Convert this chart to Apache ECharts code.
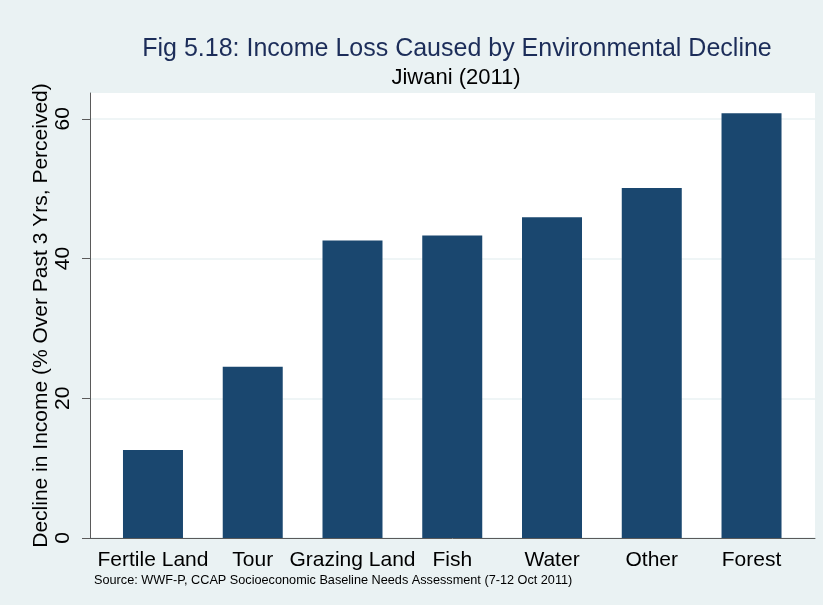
<!DOCTYPE html>
<html>
<head>
<meta charset="utf-8">
<script src="https://cdn.jsdelivr.net/npm/echarts@6/dist/echarts.min.js"></script>
<style>
  html, body { margin: 0; padding: 0; background: #eaf2f3; }
  #chart { width: 823px; height: 605px; }
</style>
</head>
<body>
<div id="chart"></div>
<script>
// Perceived income decline by resource type, Jiwani (2011)
const categories = ['Fertile Land', 'Tour', 'Grazing Land', 'Fish', 'Water', 'Other', 'Forest'];
const declineValues = [12.6, 24.5, 42.6, 43.3, 45.9, 50.1, 60.8];
const yTicks = [0, 20, 40, 60];

const titleText = 'Fig 5.18: Income Loss Caused by Environmental Decline';
const subtitleText = 'Jiwani (2011)';
const yAxisTitle = 'Decline in Income (% Over Past 3 Yrs, Perceived)';
const sourceNote = 'Source: WWF-P, CCAP Socioeconomic Baseline Needs Assessment (7-12 Oct 2011)';

const FONT = '"Liberation Sans", Arial, Helvetica, sans-serif';
const Y_MAX = 63.7;

const chart = echarts.init(document.getElementById('chart'), null, { renderer: 'canvas' });

chart.setOption({
  backgroundColor: '#eaf2f3',
  animation: false,
  title: [
    {
      text: titleText,
      left: 452, top: 32, textAlign: 'center',
      textStyle: { fontFamily: FONT, fontSize: 25, fontWeight: 'normal', color: '#1c2d59' }
    },
    {
      text: subtitleText,
      left: 451, top: 62, textAlign: 'center',
      textStyle: { fontFamily: FONT, fontSize: 22, fontWeight: 'normal', color: '#000' }
    },
    {
      text: sourceNote,
      left: 89, top: 569,
      textStyle: { fontFamily: FONT, fontSize: 12.7, fontWeight: 'normal', color: '#000' }
    }
  ],
  grid: [
    // plot region with white fill, y axis and baseline
    { left: 90, right: 8, top: 93, bottom: 67, show: true, backgroundColor: '#ffffff', borderWidth: 0 },
    // bar layout region
    { left: 103.1, right: 21.6, top: 93, bottom: 67 }
  ],
  xAxis: [
    {
      gridIndex: 0, type: 'value', min: 0, max: 1,
      axisLine: { show: true, onZero: false, lineStyle: { color: '#5a5a5a', width: 1 } },
      axisTick: { show: false }, axisLabel: { show: false }, splitLine: { show: false }
    },
    {
      gridIndex: 1, type: 'category', data: categories,
      axisLine: { show: false }, axisTick: { show: false },
      axisLabel: { fontFamily: FONT, fontSize: 21, color: '#000', margin: 12, interval: 0 }
    }
  ],
  yAxis: [
    {
      gridIndex: 0, type: 'value', min: 0, max: Y_MAX, interval: 20,
      name: yAxisTitle, nameLocation: 'middle', nameGap: 38, nameRotate: 90,
      nameMoveOverlap: false,
      nameTextStyle: { fontFamily: FONT, fontSize: 21, color: '#000' },
      axisLine: { show: true, lineStyle: { color: '#5a5a5a', width: 1 } },
      axisTick: { show: true, length: 8, customValues: yTicks, lineStyle: { color: '#5a5a5a' } },
      axisLabel: {
        customValues: yTicks, rotate: 90, margin: 16,
        fontFamily: FONT, fontSize: 21, color: '#000'
      },
      splitLine: { show: true, lineStyle: { color: '#eaf2f3', width: 1.5 } }
    },
    {
      gridIndex: 1, type: 'value', min: 0, max: Y_MAX, show: false
    }
  ],
  series: [
    {
      type: 'bar', xAxisIndex: 1, yAxisIndex: 1,
      data: declineValues, barWidth: 60,
      itemStyle: { color: '#1a476f' }
    }
  ]
});
</script>
</body>
</html>
